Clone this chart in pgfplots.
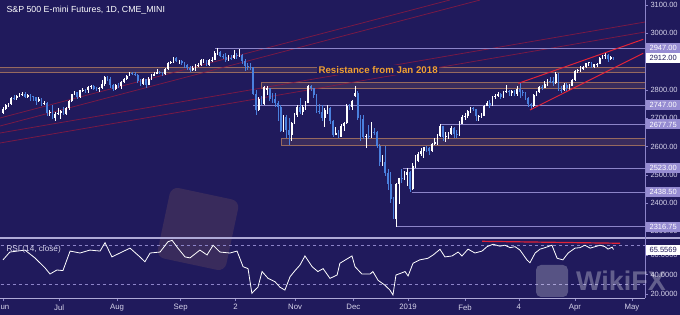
\documentclass[border=0pt]{standalone}
\usepackage{pgfplots}
\pgfplotsset{compat=1.18}
\usepackage{pgfplotstable}
\usepackage{fontspec}
\setmainfont{Liberation Sans}
\definecolor{bg}{RGB}{32,26,92}
\definecolor{upc}{RGB}{255,255,255}
\definecolor{dnc}{RGB}{74,128,222}
\definecolor{lav}{RGB}{150,140,210}
\definecolor{lvl}{RGB}{140,132,200}
\definecolor{tickc}{RGB}{215,212,235}
\definecolor{zone}{RGB}{150,105,95}
\definecolor{fan}{RGB}{135,25,65}
\definecolor{wedge}{RGB}{225,35,55}
\definecolor{resist}{RGB}{240,160,50}
\definecolor{sep}{RGB}{175,170,215}

\pgfplotstableread{
i o h l c
0 2720 2740 2714 2734
1 2734 2750 2730 2746
2 2746 2753 2740 2749
3 2749 2775 2747 2772
4 2772 2783 2765 2770
5 2770 2782 2763 2779
6 2779 2790 2775 2782
7 2782 2792 2778 2787
8 2787 2791 2772 2776
9 2776 2786 2770 2782
10 2782 2785 2762 2779
11 2779 2780 2760 2774
12 2774 2776 2745 2762
13 2762 2776 2758 2767
14 2767 2770 2742 2749
15 2749 2762 2745 2754
16 2754 2756 2708 2718
17 2718 2730 2708 2723
18 2723 2745 2696 2699
19 2699 2722 2690 2716
20 2716 2736 2712 2718
21 2718 2730 2698 2726
22 2726 2738 2710 2714
23 2714 2740 2710 2736
24 2736 2764 2730 2759
25 2759 2786 2757 2784
26 2784 2796 2782 2793
27 2793 2794 2768 2774
28 2774 2800 2772 2798
29 2798 2805 2793 2801
30 2801 2804 2790 2798
31 2798 2812 2790 2809
32 2809 2818 2802 2815
33 2815 2816 2798 2804
34 2804 2810 2795 2802
35 2802 2810 2794 2806
36 2806 2835 2804 2820
37 2820 2850 2812 2846
38 2846 2850 2830 2838
39 2838 2845 2808 2819
40 2819 2822 2795 2802
41 2802 2820 2800 2816
42 2816 2826 2806 2813
43 2813 2830 2802 2827
44 2827 2843 2825 2840
45 2840 2852 2835 2850
46 2850 2864 2848 2858
47 2858 2862 2852 2857
48 2857 2862 2848 2853
49 2853 2855 2826 2833
50 2833 2838 2815 2821
51 2821 2843 2818 2839
52 2839 2840 2805 2818
53 2818 2845 2816 2840
54 2840 2855 2836 2850
55 2850 2862 2848 2857
56 2857 2873 2855 2862
57 2862 2868 2855 2861
58 2861 2864 2850 2856
59 2856 2877 2854 2874
60 2874 2900 2872 2896
61 2896 2902 2890 2897
62 2897 2917 2895 2914
63 2914 2917 2898 2901
64 2901 2906 2893 2901
65 2901 2905 2888 2896
66 2896 2898 2878 2888
67 2888 2892 2872 2878
68 2878 2884 2865 2871
69 2871 2885 2868 2877
70 2877 2890 2866 2887
71 2887 2895 2880 2888
72 2888 2908 2886 2904
73 2904 2910 2896 2904
74 2904 2906 2885 2888
75 2888 2910 2886 2904
76 2904 2915 2900 2907
77 2907 2938 2905 2930
78 2930 2947 2925 2933
79 2933 2936 2915 2919
80 2919 2926 2910 2915
81 2915 2930 2900 2905
82 2905 2925 2902 2914
83 2914 2922 2906 2913
84 2913 2940 2910 2924
85 2924 2930 2910 2923
86 2923 2944 2918 2925
87 2925 2928 2890 2901
88 2901 2908 2868 2885
89 2885 2895 2870 2884
90 2884 2894 2872 2880
91 2880 2882 2782 2785
92 2785 2798 2710 2728
93 2728 2775 2725 2767
94 2767 2780 2745 2750
95 2750 2812 2748 2809
96 2800 2815 2782 2806
97 2806 2808 2760 2768
98 2768 2790 2755 2767
99 2767 2790 2740 2755
100 2755 2760 2690 2740
101 2740 2745 2650 2656
102 2656 2712 2650 2705
103 2705 2710 2630 2658
104 2658 2700 2605 2641
105 2641 2688 2620 2682
106 2682 2720 2680 2711
107 2711 2745 2705 2740
108 2740 2770 2715 2723
109 2723 2745 2712 2738
110 2738 2760 2730 2755
111 2755 2817 2752 2814
112 2814 2816 2795 2806
113 2806 2808 2770 2781
114 2781 2785 2720 2726
115 2726 2750 2715 2722
116 2722 2746 2690 2701
117 2701 2735 2670 2730
118 2730 2748 2715 2736
119 2736 2740 2680 2690
120 2690 2695 2632 2641
121 2641 2670 2640 2649
122 2649 2660 2630 2633
123 2633 2678 2632 2673
124 2673 2685 2655 2682
125 2682 2750 2680 2744
126 2744 2750 2728 2738
127 2738 2765 2730 2760
128 2780 2815 2775 2790
129 2790 2795 2695 2700
130 2700 2710 2620 2696
131 2696 2710 2626 2633
132 2633 2645 2595 2637
133 2637 2675 2625 2636
134 2636 2685 2630 2651
135 2651 2665 2640 2650
136 2650 2655 2595 2600
137 2600 2608 2530 2546
138 2546 2570 2530 2546
139 2546 2600 2495 2506
140 2506 2520 2445 2467
141 2467 2510 2400 2416
142 2416 2420 2345 2351
143 2345 2470 2316.75 2467
144 2467 2490 2395 2489
145 2489 2520 2470 2485
146 2485 2512 2480 2506
147 2500 2523 2460 2510
148 2510 2512 2438.5 2448
149 2448 2540 2445 2532
150 2532 2570 2525 2550
151 2550 2580 2545 2574
152 2574 2595 2568 2585
153 2585 2598 2560 2597
154 2597 2600 2580 2596
155 2596 2598 2570 2583
156 2583 2612 2580 2610
157 2610 2630 2605 2616
158 2616 2645 2605 2636
159 2636 2677.75 2632 2671
160 2671 2673 2620 2633
161 2633 2650 2615 2638
162 2638 2650 2628 2643
163 2643 2672 2640 2665
164 2665 2668 2630 2644
165 2644 2660 2630 2640
166 2640 2690 2638 2681
167 2681 2710 2678 2704
168 2704 2720 2695 2707
169 2707 2728 2700 2724
170 2724 2740 2720 2737
171 2737 2740 2725 2731
172 2731 2732 2690 2706
173 2706 2712 2690 2708
174 2708 2718 2700 2709
175 2709 2748 2708 2744
176 2744 2762 2742 2754
177 2754 2765 2735 2746
178 2746 2780 2742 2776
179 2776 2785 2768 2780
180 2780 2792 2775 2785
181 2785 2790 2768 2775
182 2775 2795 2770 2792
183 2792 2817 2790 2796
184 2796 2800 2780 2793
185 2790 2800 2780 2795
186 2795 2800 2780 2784
187 2784 2812 2780 2803
188 2803 2823 2770 2792
189 2792 2800 2780 2789
190 2789 2792 2765 2771
191 2771 2775 2740 2749
192 2749 2752 2729 2743
193 2743 2786 2740 2783
194 2783 2796 2778 2792
195 2792 2815 2788 2811
196 2811 2818 2800 2808
197 2808 2830 2805 2822
198 2822 2838 2815 2833
199 2833 2845 2825 2832
200 2832 2845 2815 2824
201 2824 2862 2820 2855
202 2855 2860 2795 2801
203 2801 2812 2788 2799
204 2799 2825 2795 2818
205 2818 2825 2795 2806
206 2806 2820 2800 2815
207 2815 2840 2812 2834
208 2834 2872 2832 2867
209 2867 2875 2860 2869
210 2869 2885 2865 2875
211 2875 2885 2870 2882
212 2882 2896 2878 2894
213 2894 2900 2885 2897
214 2897 2898 2876 2880
215 2880 2893 2876 2890
216 2890 2895 2880 2891
217 2891 2915 2890 2912
218 2912 2925 2908 2920
219 2920 2930 2910 2922
220 2922 2926 2898 2908
221 2908 2920 2905 2915
222 2915 2918 2906 2912
}\candles

\pgfplotstableread{
i r
0 55
2.5 63
8 65
11.6 57
15.3 46.7
17.1 40.5
19.6 44.6
21.8 44
24.4 64
28 62
31.6 65
35.3 64
37.1 72.6
39.6 58
42.5 62
46.2 67
49.8 58
51.6 53
53.5 62
57.1 63
60 73.6
61.5 75
63.6 67
66.2 58
68 57
71.6 65
74.2 60
76.4 70
78.9 63
82.5 62
85.1 64
87.3 48
89.1 46
90.5 20.7
91.6 24
92.7 27
94.2 43
96.4 36
98.9 32.6
100.7 27
102.5 24
104.4 37.8
106.2 44
108 49.7
109.8 59
112.4 48
114.5 43
116.4 46
118.9 36
121.5 39.5
122.5 51.5
126.9 59
128 48
130.5 40.5
133.5 40.5
134.5 43
136.4 34
138.9 29
140.7 24
141.8 19
142.9 39.5
144.4 41
146.2 43
147.3 38.5
149.1 51.5
151.6 55
154.5 56.6
156.4 60
158.9 65.8
160.7 58
163.3 59
165.5 63
166.9 59
169.1 66
171.6 62
174.2 64
176 68.5
178.2 71
180.7 69
182.5 70
184.4 67.5
186.2 68.5
188 65
190.5 55
191.6 52
193.5 62
195.3 66
197.1 67.5
199.6 70
201.5 56.6
203.6 55
205.5 62
208 67
209.8 67.5
211.6 70
213.5 67
215.3 68.5
217.1 70
218.9 68.5
220 66
221.5 68
222 65.56
}\rsi

\begin{document}
\begin{tikzpicture}
\fill[bg] (0,0) rectangle (680pt,315pt);
% faint watermark logo in the middle
\fill[zone, opacity=0.22, rounded corners=8pt, rotate around={-12:(198pt,86pt)}] (163pt,50pt) rectangle (233pt,122pt);

\begin{axis}[name=price, at={(0pt,77pt)}, anchor=south west, scale only axis,
  width=645pt, height=238pt,
  xmin=-1.09, xmax=233.45, ymin=2276.6, ymax=3117.7,
  axis line style={draw=none}, xtick=\empty,
  ytick={2300,2400,2500,2600,2700,2800,3000,3100}, ytick pos=right, yticklabel pos=right,
  tick align=outside, major tick length=3pt,
  tick style={color=lvl, line width=0.5pt},
  yticklabel style={font=\fontsize{7.5}{8}\selectfont, text=tickc, xshift=-1pt,
    /pgf/number format/fixed, /pgf/number format/fixed zerofill,
    /pgf/number format/precision=2, /pgf/number format/1000 sep={},
    /pgf/number format/assume math mode=true},
  candle/.style={draw=none, mark=none, forget plot,
    error bars/y dir=both, error bars/y explicit, error bars/error mark=none,
    error bars/error bar style={draw=#1, solid, line cap=butt}},
]
% zones
\draw[zone, fill=zone, fill opacity=0.22, line width=0.8pt] (axis cs:-3,2861) rectangle (axis cs:240,2880);
\draw[zone, fill=zone, fill opacity=0.22, line width=0.8pt] (axis cs:94,2807) rectangle (axis cs:240,2826);
\draw[zone, fill=zone, fill opacity=0.22, line width=0.8pt] (axis cs:101.1,2603) rectangle (axis cs:240,2629);
% fan lines
\draw[fan, line width=0.8pt, opacity=0.85] (axis cs:-1.09,2700.7) -- (axis cs:162.5,3117.7);
\draw[fan, line width=0.8pt, opacity=0.85] (axis cs:-1.09,2672.4) -- (axis cs:173.5,3117.7);
\draw[fan, line width=0.8pt, opacity=0.85] (axis cs:-1.09,2647.6) -- (axis cs:233.45,3039.9);
\draw[fan, line width=0.8pt, opacity=0.85] (axis cs:-1.09,2612.3) -- (axis cs:233.45,3004.6);
% levels
\draw[lvl, line width=0.6pt] (axis cs:77.1,2947) -- (axis cs:240,2947);
\draw[lvl, line width=0.6pt] (axis cs:90.9,2747) -- (axis cs:240,2747);
\draw[lvl, line width=0.6pt] (axis cs:159,2677.75) -- (axis cs:240,2677.75);
\draw[lvl, line width=0.6pt] (axis cs:145.5,2523) -- (axis cs:240,2523);
\draw[lvl, line width=0.6pt] (axis cs:148.7,2438.5) -- (axis cs:240,2438.5);
\draw[lvl, line width=0.6pt] (axis cs:143.3,2316.75) -- (axis cs:240,2316.75);
% candles: wicks
\addplot[candle=upc, restrict expr to domain={\thisrow{c}-\thisrow{o}}{0:10000},
  error bars/error bar style={line width=0.6pt}]
  table[x=i, y=c, y error plus expr=\thisrow{h}-\thisrow{c}, y error minus expr=\thisrow{c}-\thisrow{l}] {\candles};
\addplot[candle=dnc, restrict expr to domain={\thisrow{o}-\thisrow{c}}{0.001:10000},
  error bars/error bar style={line width=0.6pt}]
  table[x=i, y=c, y error plus expr=\thisrow{h}-\thisrow{c}, y error minus expr=\thisrow{c}-\thisrow{l}] {\candles};
% candles: bodies
\addplot[candle=upc, restrict expr to domain={\thisrow{c}-\thisrow{o}}{0:10000},
  error bars/error bar style={line width=1.9pt}]
  table[x=i, y=c, y error plus expr=0, y error minus expr=\thisrow{c}-\thisrow{o}] {\candles};
\addplot[candle=dnc, restrict expr to domain={\thisrow{o}-\thisrow{c}}{0.001:10000},
  error bars/error bar style={line width=1.9pt}]
  table[x=i, y=c, y error plus expr=\thisrow{o}-\thisrow{c}, y error minus expr=0] {\candles};
% wedge
\draw[wedge, line width=1pt] (axis cs:187.4,2823.3) -- (axis cs:232.8,2978.8);
\draw[wedge, line width=1pt] (axis cs:191.6,2729) -- (axis cs:232.8,2929.3);
% resistance text
\node[fill=bg, inner sep=1.5pt, text=resist, font=\bfseries\fontsize{9.7}{11}\selectfont] at (axis cs:136.4,2871) {Resistance from Jan 2018};
% label anchors
\coordinate (L1) at (axis cs:233.45,2947);
\coordinate (L2) at (axis cs:233.45,2912);
\coordinate (L3) at (axis cs:233.45,2747);
\coordinate (L4) at (axis cs:233.45,2677.75);
\coordinate (L5) at (axis cs:233.45,2523);
\coordinate (L6) at (axis cs:233.45,2438.5);
\coordinate (L7) at (axis cs:233.45,2316.75);
\end{axis}

\begin{axis}[name=rsi, at={(0pt,17pt)}, anchor=south west, scale only axis,
  width=645pt, height=60pt,
  xmin=-1.09, xmax=233.45, ymin=15.9, ymax=77.4,
  axis line style={draw=none},
  xtick={0,20.4,41.5,64.6,84.6,106.2,127.4,147.3,168,187.6,208,228.7},
  xticklabels={Jun,Jul,Aug,Sep,2,Nov,Dec,2019,Feb,4,Apr,May},
  xtick pos=bottom, ytick={20,40,60}, ytick pos=right, yticklabel pos=right,
  tick align=outside, major tick length=3pt,
  tick style={color=lvl, line width=0.5pt},
  xticklabel style={font=\fontsize{7.8}{8}\selectfont, text=tickc},
  yticklabel style={font=\fontsize{7.5}{8}\selectfont, text=tickc, xshift=-1pt,
    /pgf/number format/fixed, /pgf/number format/fixed zerofill,
    /pgf/number format/precision=4, /pgf/number format/1000 sep={},
    /pgf/number format/assume math mode=true},
]
\draw[lvl, line width=0.5pt, dash pattern=on 3pt off 3pt] (axis cs:-3,70) -- (axis cs:240,70);
\draw[lvl, line width=0.5pt, dash pattern=on 3pt off 3pt] (axis cs:-3,30) -- (axis cs:240,30);
\addplot[color=white, line width=0.8pt, mark=none] table[x=i, y=r] {\rsi};
\draw[wedge, line width=1.2pt] (axis cs:174.2,74) -- (axis cs:224.4,72);
\coordinate (R1) at (axis cs:233.45,65.5569);
\end{axis}

% frame lines
\draw[sep, line width=1.4pt] (0,77pt) -- (680pt,77pt);
\draw[sep, line width=0.8pt] (0,17pt) -- (645pt,17pt);
\draw[lvl, line width=0.4pt] (645pt,17pt) -- (645pt,315pt);

% right-side price labels
\tikzset{plab/.style={anchor=west, xshift=1pt, minimum width=34pt, minimum height=10pt, inner sep=1pt,
  font=\fontsize{7.5}{8}\selectfont}}
\foreach \c/\t in {L1/2947.00, L3/2747.00, L4/2677.75, L5/2523.00, L6/2438.50, L7/2316.75}
  {\node[plab, fill=lav, text=white] at (\c) {\t};}
\node[plab, fill=white, text=bg] at (L2) {2912.00};
\node[plab, fill=white, text=bg] at (R1) {65.5569};

% titles
\node[anchor=west, text=white, font=\fontsize{8.8}{10}\selectfont] at (3pt,305pt) {S\&P 500 E-mini Futures, 1D, CME\_MINI};
\node[anchor=west, text=tickc, font=\fontsize{8.2}{9}\selectfont] at (3pt,66pt) {RSI (14, close)};

% watermark
\fill[white, opacity=0.25, rounded corners=5pt] (536pt,18pt) rectangle (568pt,50pt);
\node[text=white, opacity=0.3, font=\bfseries\fontsize{27}{28}\selectfont] at (621pt,34pt) {WikiFX};

\pgfresetboundingbox
\path[use as bounding box] (0,0) rectangle (680pt,315pt);
\end{tikzpicture}
\end{document}
